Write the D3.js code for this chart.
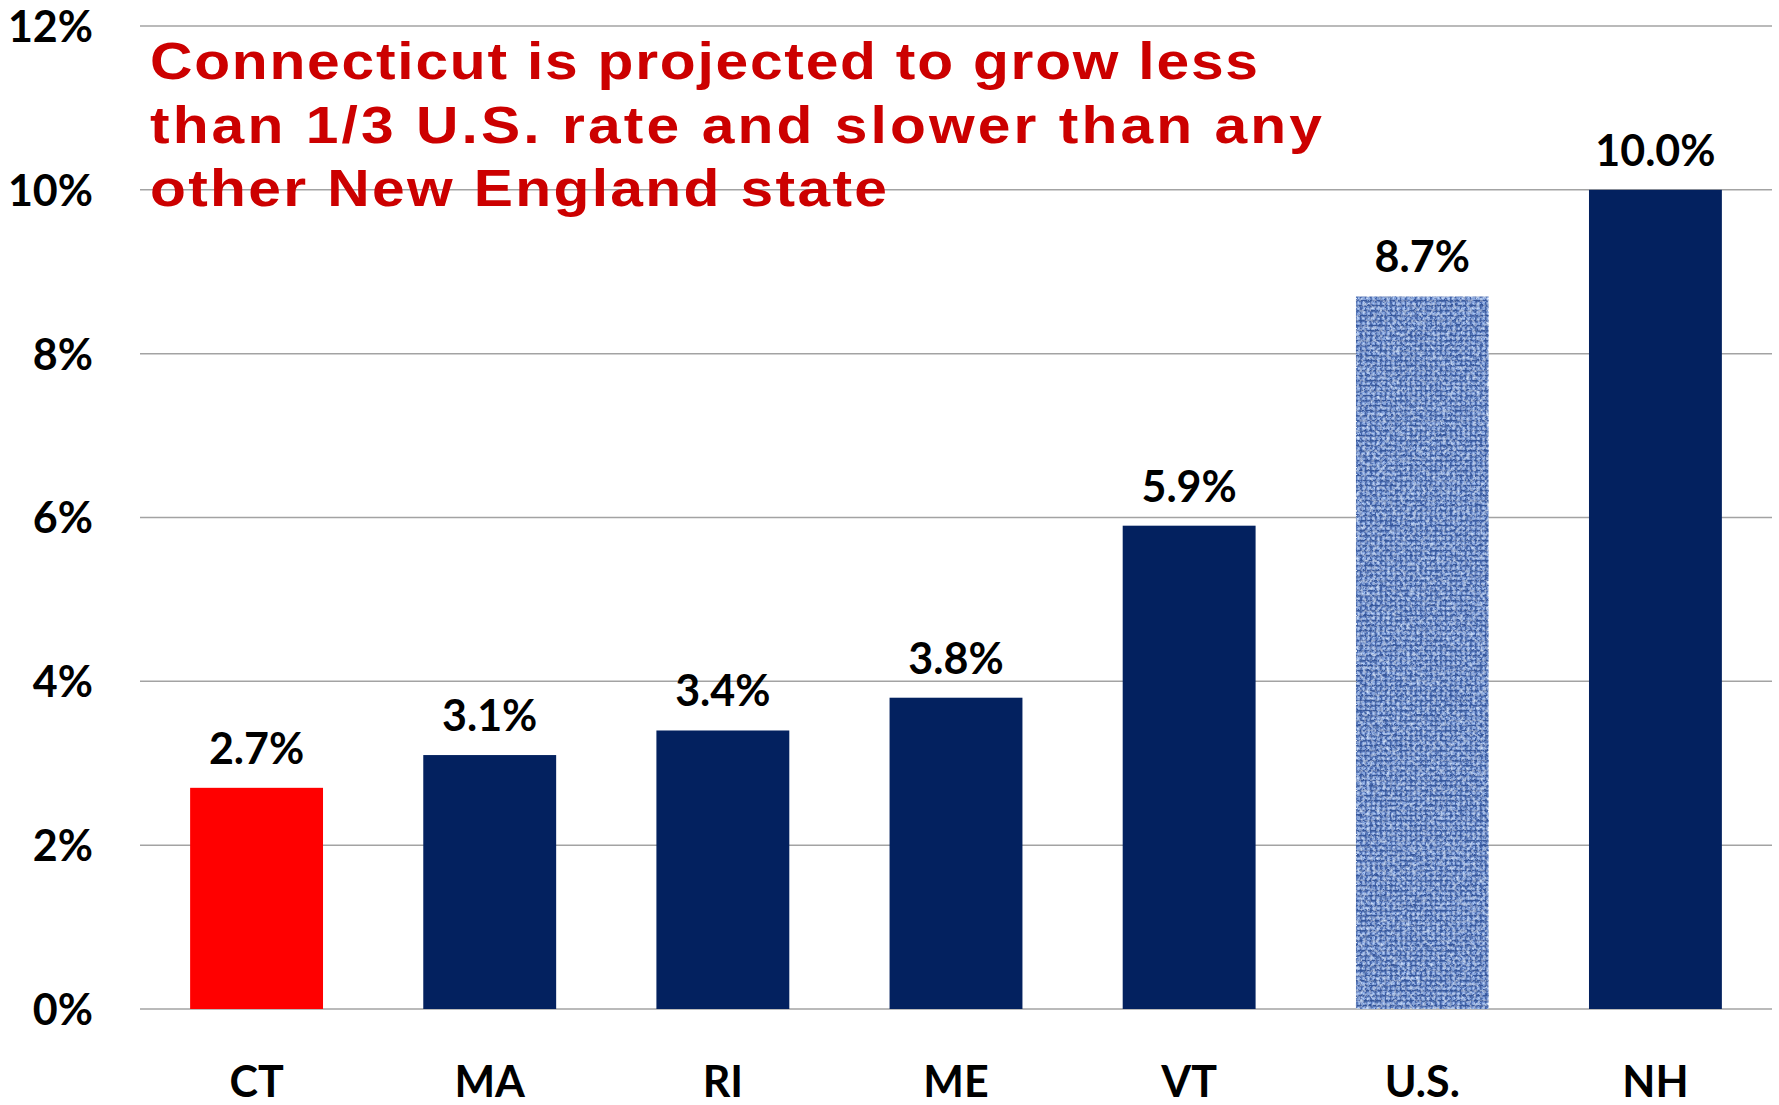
<!DOCTYPE html>
<html>
<head>
<meta charset="utf-8">
<script src="https://cdn.jsdelivr.net/npm/d3@7"></script>
<style>
  html, body { margin: 0; padding: 0; background: #fff; }
  svg { display: block; }
</style>
</head>
<body>
<svg id="chart" width="1779" height="1105"></svg>
<script>
// Projected population growth by state
const categories = ["CT", "MA", "RI", "ME", "VT", "U.S.", "NH"];
const growth = [2.7, 3.1, 3.4, 3.8, 5.9, 8.7, 10.0];
const yTicks = [0, 2, 4, 6, 8, 10, 12];
const titleLines = [
  "Connecticut is projected to grow less",
  "than 1/3 U.S. rate and slower than any",
  "other New England state"
];

const svg = d3.select("#chart");
const labelFont = "Lato, 'Open Sans', sans-serif";

const x = d3.scaleBand()
  .domain(categories)
  .range([140, 1772])
  .paddingInner(0.43)
  .paddingOuter(0.215);

const y = d3.scaleLinear()
  .domain([0, 12])
  .range([1009, 26]);

// woven texture for the national bar
const defs = svg.append("defs");
const pat = defs.append("pattern")
  .attr("id", "linen")
  .attr("patternUnits", "userSpaceOnUse")
  .attr("width", 5).attr("height", 5);
pat.append("rect").attr("width", 5).attr("height", 5).attr("fill", "#6a8bcb");
pat.append("rect").attr("width", 5).attr("height", 1.5).attr("fill", "#2c4c90").attr("opacity", 0.8);
pat.append("rect").attr("width", 1.5).attr("height", 5).attr("fill", "#30519a").attr("opacity", 0.7);
pat.append("rect").attr("x", 2.5).attr("y", 2.5).attr("width", 2).attr("height", 2).attr("fill", "#a9c6f4");

const f = defs.append("filter").attr("id", "weave")
  .attr("x", 0).attr("y", 0).attr("width", 1).attr("height", 1);
f.append("feTurbulence").attr("type", "fractalNoise")
  .attr("baseFrequency", "0.3").attr("numOctaves", 3).attr("seed", 7).attr("result", "noise");
f.append("feDisplacementMap").attr("in", "SourceGraphic").attr("in2", "noise")
  .attr("scale", 3).attr("xChannelSelector", "R").attr("yChannelSelector", "G").attr("result", "disp");
f.append("feColorMatrix").attr("in", "noise").attr("type", "matrix")
  .attr("values", "0 0 0 0 0.66  0 0 0 0 0.79  0 0 0 0 0.98  2.2 0 0 0 -1.05")
  .attr("result", "light");
f.append("feColorMatrix").attr("in", "noise").attr("type", "matrix")
  .attr("values", "0 0 0 0 0.12  0 0 0 0 0.22  0 0 0 0 0.45  0 -2.2 0 0 0.95")
  .attr("result", "dark");
f.append("feComposite").attr("in", "light").attr("in2", "disp").attr("operator", "over").attr("result", "mix1");
f.append("feComposite").attr("in", "dark").attr("in2", "mix1").attr("operator", "over").attr("result", "mix2");
f.append("feComposite").attr("in", "mix2").attr("in2", "SourceAlpha").attr("operator", "in");

// gridlines
svg.append("g")
  .selectAll("line")
  .data(yTicks)
  .join("line")
  .attr("x1", 140).attr("x2", 1772)
  .attr("y1", d => y(d)).attr("y2", d => y(d))
  .attr("stroke", "#a3a3a3")
  .attr("stroke-width", 1.5);

// y axis labels
const yAxis = d3.axisLeft(y).tickValues(yTicks).tickFormat(d => d + "%").tickSize(0).tickPadding(0);
const gy = svg.append("g").attr("transform", "translate(93,0)").call(yAxis);
gy.select(".domain").remove();
gy.selectAll("text")
  .attr("font-family", labelFont)
  .attr("font-weight", 700)
  .attr("font-size", 43)
  .attr("fill", "#000")
  .attr("dy", "0.36em");

// bars
const fills = { "CT": "#ff0000", "U.S.": "url(#linen)" };
svg.append("g")
  .selectAll("rect")
  .data(categories)
  .join("rect")
  .attr("x", d => x(d))
  .attr("width", x.bandwidth())
  .attr("y", (d, i) => y(growth[i]))
  .attr("height", (d, i) => y(0) - y(growth[i]))
  .attr("fill", d => fills[d] || "#03215f")
  .attr("filter", d => d === "U.S." ? "url(#weave)" : null);

// value labels
svg.append("g")
  .selectAll("text")
  .data(categories)
  .join("text")
  .attr("x", d => x(d) + x.bandwidth() / 2)
  .attr("y", (d, i) => y(growth[i]) - 24)
  .attr("text-anchor", "middle")
  .attr("font-family", labelFont)
  .attr("font-weight", 700)
  .attr("font-size", 43)
  .attr("fill", "#000")
  .text((d, i) => d3.format(".1f")(growth[i]) + "%");

// category labels
const xAxis = d3.axisBottom(x).tickSize(0).tickPadding(0);
const gx = svg.append("g").attr("transform", "translate(0,1009)").call(xAxis);
gx.select(".domain").remove();
gx.selectAll("text")
  .attr("font-family", labelFont)
  .attr("font-weight", 700)
  .attr("font-size", 43)
  .attr("fill", "#000")
  .attr("dy", null)
  .attr("y", 88);

// headline, set wide with a horizontal stretch
const stretch = 1.13;
const lineEnds = [1258, 1322, 887];
svg.append("g")
  .selectAll("text")
  .data(titleLines)
  .join("text")
  .attr("transform", (d, i) => `translate(150,${79 + i * 63.7}) scale(${stretch},1)`)
  .attr("font-family", "'Liberation Sans', Arial, sans-serif")
  .attr("font-weight", 700)
  .attr("font-size", 52)
  .attr("fill", "#cc0000")
  .attr("textLength", (d, i) => (lineEnds[i] - 150) / stretch)
  .attr("lengthAdjust", "spacing")
  .text(d => d);
</script>
</body>
</html>
